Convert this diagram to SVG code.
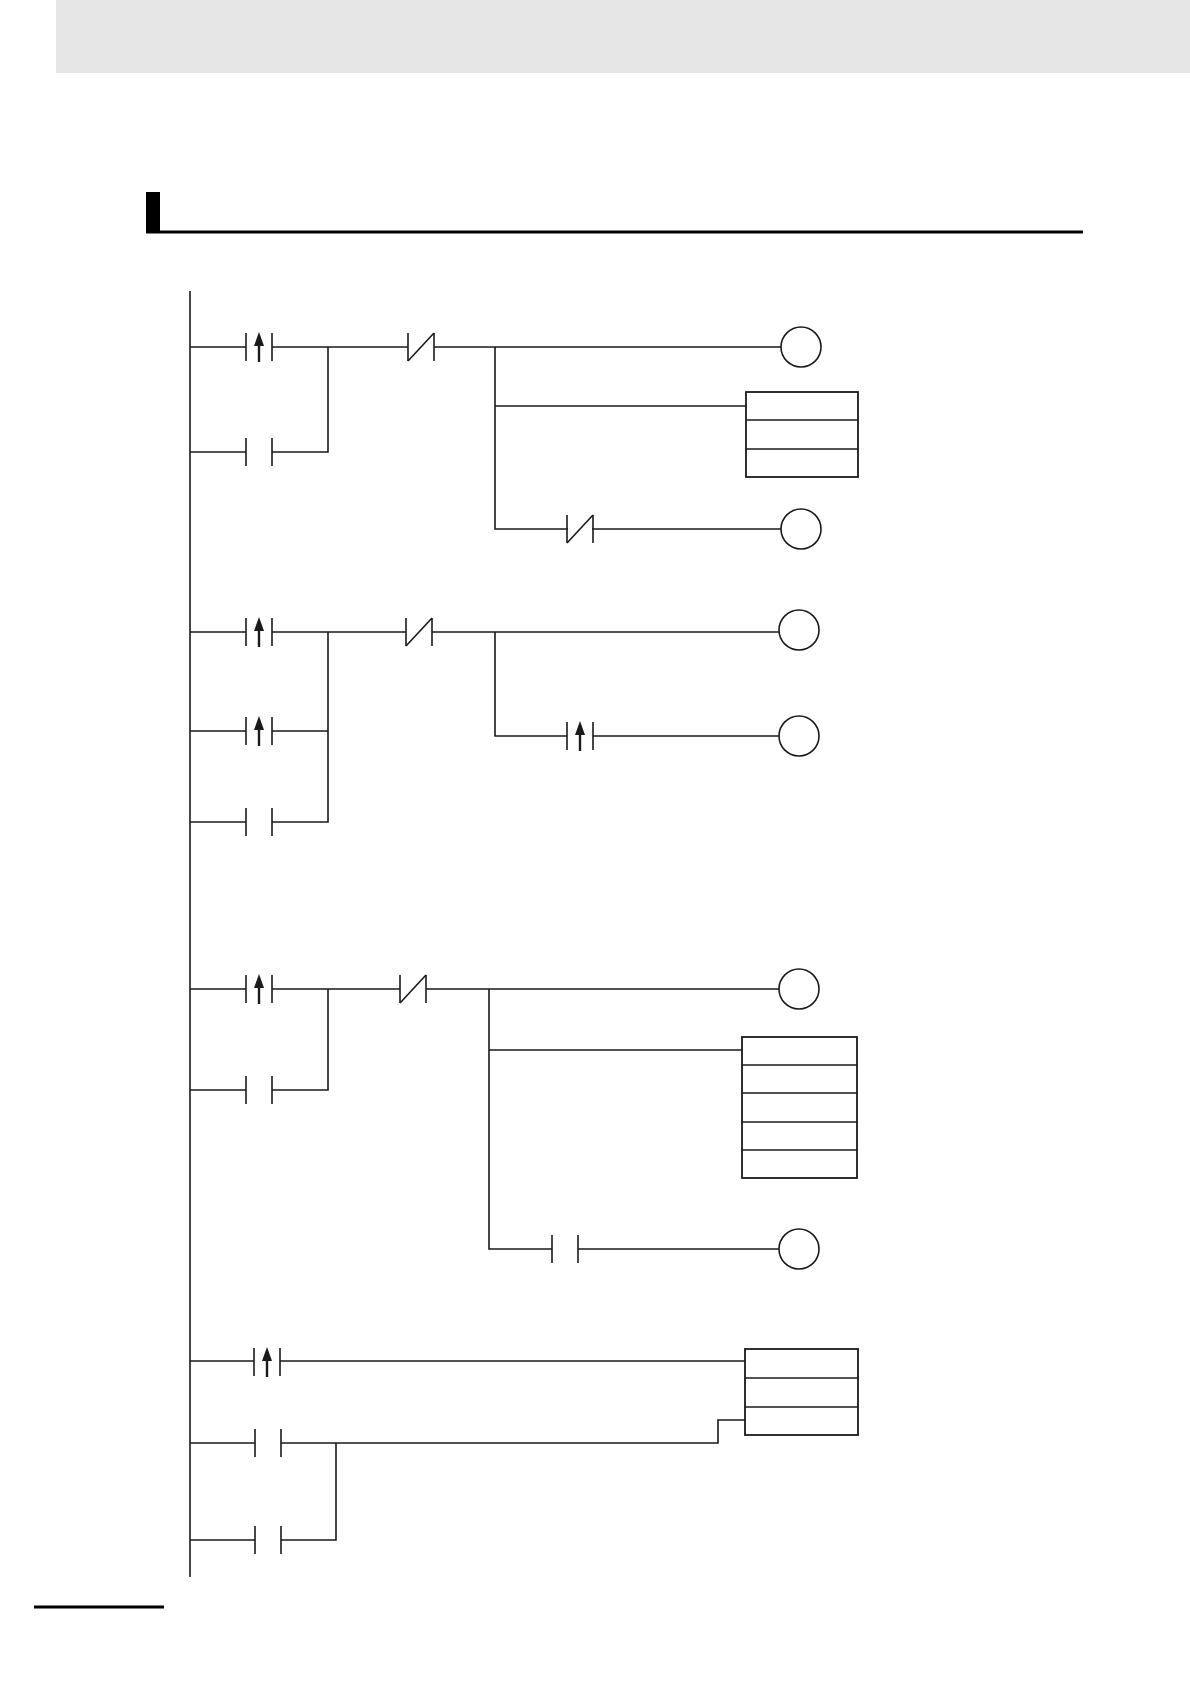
<svg xmlns="http://www.w3.org/2000/svg" xmlns:xlink="http://www.w3.org/1999/xlink" width="1190" height="1684" viewBox="0 0 1190 1684">
<style>
.w{stroke:#1a1a1a;stroke-width:1.6;fill:none}
.p{stroke:#1a1a1a;stroke-width:1.6;fill:none}
.box{stroke:#1a1a1a;stroke-width:1.8;fill:#fff}
.coil{stroke:#1a1a1a;stroke-width:1.6;fill:#fff}
</style>
<defs>
<g id="no"><line class="p" x1="-13" y1="-14" x2="-13" y2="14"/><line class="p" x1="13" y1="-14" x2="13" y2="14"/></g>
<g id="up"><use xlink:href="#no"/><line x1="0" y1="15" x2="0" y2="-4" stroke="#1a1a1a" stroke-width="2.4"/><polygon points="0,-15 -5,-1 5,-1" fill="#1a1a1a"/></g>
<g id="nc"><use xlink:href="#no"/><line class="p" x1="-13" y1="14" x2="13" y2="-14"/></g>
</defs>
<rect x="56" y="0" width="1134" height="73" fill="#e6e6e6"/>
<rect x="146" y="192" width="14" height="41" fill="#000"/>
<line x1="146" y1="232" x2="1083" y2="232" stroke="#000" stroke-width="3"/>
<line x1="34" y1="1607" x2="164" y2="1607" stroke="#000" stroke-width="3"/>
<g id="connectors" class="w">
<line x1="190" y1="291" x2="190" y2="1577"/>
<!-- rung 1 -->
<path d="M190 347H246M272 347H408M434 347H781"/>
<path d="M190 452H246M272 452H328V347"/>
<path d="M495 347V529H568M592 529H781M495 406H746"/>
<!-- rung 2 -->
<path d="M190 632H246M272 632H406M432 632H779"/>
<path d="M190 731H246M272 731H328M190 822H246M272 822H328V632"/>
<path d="M495 632V736H567M593 736H779"/>
<!-- rung 3 -->
<path d="M190 989H246M272 989H400M426 989H779"/>
<path d="M190 1090H246M272 1090H328V989"/>
<path d="M489 989V1249H552M578 1249H779M489 1050H742"/>
<!-- rung 4 -->
<path d="M190 1361H254M280 1361H745"/>
<path d="M190 1443H255M281 1443H718V1420H745"/>
<path d="M190 1540H255M281 1540H336V1443"/>
</g>
<g id="r1c1"><use xlink:href="#up" x="259" y="347"/></g>
<g id="r1c2"><use xlink:href="#no" x="259" y="452"/></g>
<g id="r1c3"><use xlink:href="#nc" x="421" y="347"/></g>
<g id="r1coil1"><circle class="coil" cx="801" cy="347" r="20"/></g>
<g id="r1box"><rect class="box" x="746" y="392" width="112" height="85"/><line class="w" x1="746" y1="420" x2="858" y2="420"/><line class="w" x1="746" y1="449" x2="858" y2="449"/></g>
<g id="r1c4"><use xlink:href="#nc" x="580" y="529"/></g>
<g id="r1coil2"><circle class="coil" cx="801" cy="529" r="20"/></g>
<g id="r2c1"><use xlink:href="#up" x="259" y="632"/></g>
<g id="r2c2"><use xlink:href="#up" x="259" y="731"/></g>
<g id="r2c3"><use xlink:href="#no" x="259" y="822"/></g>
<g id="r2c4"><use xlink:href="#nc" x="419" y="632"/></g>
<g id="r2coil1"><circle class="coil" cx="799" cy="630" r="20"/></g>
<g id="r2c5"><use xlink:href="#up" x="580" y="736"/></g>
<g id="r2coil2"><circle class="coil" cx="799" cy="736" r="20"/></g>
<g id="r3c1"><use xlink:href="#up" x="259" y="989"/></g>
<g id="r3c2"><use xlink:href="#no" x="259" y="1090"/></g>
<g id="r3c3"><use xlink:href="#nc" x="413" y="989"/></g>
<g id="r3coil1"><circle class="coil" cx="799" cy="989" r="20"/></g>
<g id="r3box"><rect class="box" x="742" y="1037" width="115" height="141"/><line class="w" x1="742" y1="1065" x2="857" y2="1065"/><line class="w" x1="742" y1="1093" x2="857" y2="1093"/><line class="w" x1="742" y1="1122" x2="857" y2="1122"/><line class="w" x1="742" y1="1150" x2="857" y2="1150"/></g>
<g id="r3c4"><use xlink:href="#no" x="565" y="1249"/></g>
<g id="r3coil2"><circle class="coil" cx="799" cy="1249" r="20"/></g>
<g id="r4c1"><use xlink:href="#up" x="267" y="1362"/></g>
<g id="r4c2"><use xlink:href="#no" x="268" y="1443"/></g>
<g id="r4c3"><use xlink:href="#no" x="268" y="1540"/></g>
<g id="r4box"><rect class="box" x="745" y="1349" width="113" height="86"/><line class="w" x1="745" y1="1378" x2="858" y2="1378"/><line class="w" x1="745" y1="1407" x2="858" y2="1407"/></g>
</svg>
